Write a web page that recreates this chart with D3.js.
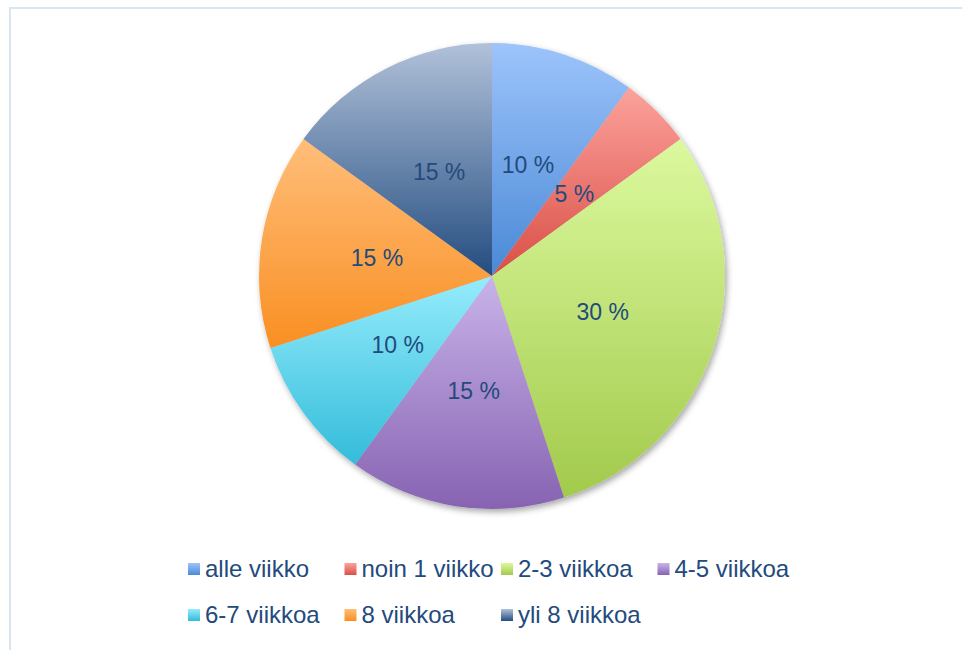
<!DOCTYPE html>
<html lang="fi">
<head>
    <meta charset="UTF-8">
    <title>Piirakka</title>
    <script src="https://d3js.org/d3.v7.min.js"></script>
    <style type="text/css">
        body { margin: 0; background: #fff; }
        #chartArea { width: 962px; height: 650px; }
        text { font-family: "Liberation Sans", Arial, sans-serif; fill: #234a7c; }
    </style>
</head>
<body>
    <div id="chartArea"></div>
    <script type="text/javascript">
        var categories = ['alle viikko', 'noin 1 viikko', '2-3 viikkoa', '4-5 viikkoa', '6-7 viikkoa', '8 viikkoa', 'yli 8 viikkoa'];
        var values = [10, 5, 30, 15, 10, 15, 15];
        var lightColors = ['#9dc4fb', '#fca29c', '#dcf99e', '#c9b3e9', '#95ecfc', '#ffbe7a', '#b1c1d9'];
        var darkColors = ['#4a89d6', '#d94f46', '#a2ca4c', '#8763b2', '#33bcda', '#f98f22', '#244d80'];

        var W = 962, H = 650;
        var cx = 492, cy = 276, r = 233;

        var svg = d3.select('#chartArea').append('svg')
            .attr('width', W)
            .attr('height', H);

        var defs = svg.append('defs');
        var shadow = defs.append('filter').attr('id', 'shadow')
            .attr('x', '-10%').attr('y', '-10%').attr('width', '125%').attr('height', '125%');
        shadow.append('feDropShadow')
            .attr('dx', 2).attr('dy', 3).attr('stdDeviation', 3)
            .attr('flood-color', '#000').attr('flood-opacity', 0.35);

        categories.forEach(function (c, i) {
            var g = defs.append('linearGradient').attr('id', 'grad' + i)
                .attr('x1', 0).attr('y1', 0).attr('x2', 0).attr('y2', 1);
            g.append('stop').attr('offset', '0%').attr('stop-color', lightColors[i]);
            g.append('stop').attr('offset', '100%').attr('stop-color', darkColors[i]);
        });

        // outer frame
        svg.append('rect')
            .attr('x', 10).attr('y', 8)
            .attr('width', W + 20).attr('height', H + 20)
            .attr('fill', 'none')
            .attr('stroke', '#dae5f3')
            .attr('stroke-width', 2);

        var pie = d3.pie().sort(null).value(function (d) { return d; });
        var arc = d3.arc().innerRadius(0).outerRadius(r);
        var arcs = pie(values);

        var g = svg.append('g').attr('transform', 'translate(' + cx + ',' + cy + ')');

        g.append('g').attr('filter', 'url(#shadow)')
            .selectAll('path')
            .data(arcs)
            .enter()
            .append('path')
            .attr('d', arc)
            .attr('fill', function (d, i) { return 'url(#grad' + i + ')'; });

        g.selectAll('text.lbl')
            .data(arcs)
            .enter()
            .append('text')
            .attr('class', 'lbl')
            .attr('transform', function (d) { return 'translate(' + arc.centroid(d) + ')'; })
            .attr('text-anchor', 'middle')
            .attr('dy', '0.35em')
            .style('font-size', '23px')
            .text(function (d) { return d.data + ' %'; });

        // legend
        var legendX = 188, legendY = 569, stepX = 156.5, stepY = 46, perRow = 4;
        var legend = svg.append('g').selectAll('g')
            .data(categories)
            .enter()
            .append('g')
            .attr('transform', function (d, i) {
                return 'translate(' + (legendX + (i % perRow) * stepX) + ',' + (legendY + Math.floor(i / perRow) * stepY) + ')';
            });
        legend.append('rect')
            .attr('x', 0).attr('y', -6)
            .attr('width', 12).attr('height', 12)
            .attr('fill', function (d, i) { return 'url(#grad' + i + ')'; });
        legend.append('text')
            .attr('x', 17)
            .attr('dy', '0.35em')
            .style('font-size', '24px')
            .text(function (d) { return d; });
    </script>
</body>
</html>
